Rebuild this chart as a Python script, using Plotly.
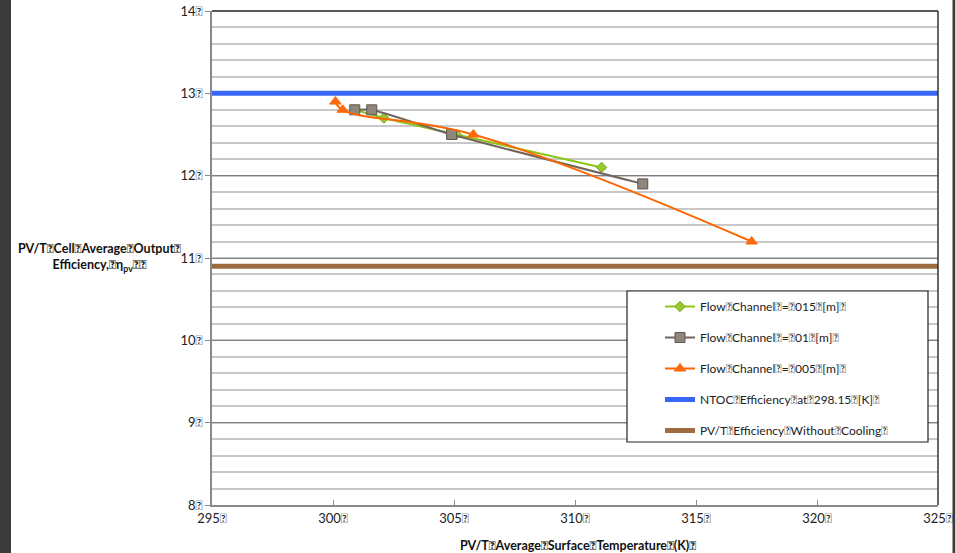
import plotly.graph_objects as go

B = "\ue000"  # glyph that renders as a missing-glyph box, as in the reference

temp_015 = [300.9, 302.1, 305.1, 311.1]
eff_015 = [12.8, 12.7, 12.5, 12.1]
temp_01 = [300.9, 301.6, 304.9, 312.8]
eff_01 = [12.8, 12.8, 12.5, 11.9]
temp_005 = [300.1, 300.4, 305.8, 317.3]
eff_005 = [12.9, 12.8, 12.5, 11.2]
ref_x = [295, 325]
ntoc_eff = [13.0, 13.0]
nocool_eff = [10.9, 10.9]

x_ticks = [295, 300, 305, 310, 315, 320, 325]
y_ticks = [8, 9, 10, 11, 12, 13, 14]

names = [
    f"Flow{B}Channel{B}={B}015{B}[m]{B}",
    f"Flow{B}Channel{B}={B}01{B}[m]{B}",
    f"Flow{B}Channel{B}={B}005{B}[m]{B}",
    f"NTOC{B}Efficiency{B}at{B}298.15{B}[K]{B}",
    f"PV/T{B}Efficiency{B}Without{B}Cooling{B}",
]

FONT = "Lato, Liberation Sans, sans-serif"

fig = go.Figure()
fig.add_trace(go.Scatter(x=temp_015, y=eff_015, name=names[0], legendgroup="a",
                         mode="lines+markers", line=dict(color="#8cc414", width=2, shape="spline", smoothing=0.5),
                         marker=dict(symbol="diamond", size=8, color="#96c832", line=dict(color="#7aa81a", width=1))))
fig.add_trace(go.Scatter(x=temp_01, y=eff_01, name=names[1], legendgroup="b",
                         mode="lines+markers", line=dict(color="#6f655b", width=2, shape="spline", smoothing=0.5),
                         marker=dict(symbol="square", size=10, color="#8f877c", line=dict(color="#5e564d", width=1))))
fig.add_trace(go.Scatter(x=temp_005, y=eff_005, name=names[2], legendgroup="c",
                         mode="lines+markers", line=dict(color="#ff6600", width=2, shape="spline", smoothing=1.2),
                         marker=dict(symbol="triangle-up", size=10, color="#ff6a10", line=dict(color="#ff6600", width=1))))
fig.add_trace(go.Scatter(x=ref_x, y=ntoc_eff, name=names[3], legendgroup="d",
                         mode="lines", line=dict(color="#3a66f5", width=5)))
fig.add_trace(go.Scatter(x=ref_x, y=nocool_eff, name=names[4], legendgroup="e",
                         mode="lines", line=dict(color="#9c6b40", width=5)))

L, R, T, Bm = 212, 17, 11, 48
W, H = 955, 553
pw = W - L - R
ph = H - T - Bm

def px(xp):
    return (xp - L) / pw

def py(yp):
    return 1 - (yp - T) / ph

fig.update_layout(
    width=W, height=H,
    margin=dict(l=L, r=R, t=T, b=Bm, autoexpand=False),
    paper_bgcolor="white", plot_bgcolor="white",
    font=dict(family=FONT, size=12, color="#222222"),
    showlegend=True,
    legend=dict(x=px(660), y=py(292), xanchor="left", yanchor="top",
                bgcolor="rgba(0,0,0,0)", borderwidth=0, tracegroupgap=12,
                font=dict(family=FONT, size=12, color="#222222"), itemwidth=30),
    xaxis=dict(range=[295, 325], tickvals=x_ticks, ticktext=[f"{v}{B}" for v in x_ticks],
               automargin=False,
               showgrid=False, zeroline=False, showline=True, linecolor="#8a8a8a", linewidth=2,
               ticks="inside", ticklen=5, tickcolor="#8a8a8a", tickfont=dict(size=13, color="#222222")),
    yaxis=dict(range=[8, 14], tickvals=y_ticks, ticktext=[f"{v}{B}" for v in y_ticks],
               automargin=False,
               showgrid=True, gridcolor="#7f7f7f", gridwidth=1, zeroline=False,
               showline=True, linecolor="#8a8a8a", linewidth=2,
               ticks="outside", ticklen=5, tickcolor="#8a8a8a", tickfont=dict(size=13, color="#222222"),
               minor=dict(dtick=0.2, showgrid=True, gridcolor="#c8c8c8", gridwidth=1.5, ticks="")),
)

shapes = [
    # left and right dark strips of the window
    dict(type="rect", xref="paper", yref="paper", x0=px(0), x1=px(11), y0=py(H), y1=py(0),
         fillcolor="#3b3b3b", line=dict(width=0), layer="above"),
    dict(type="rect", xref="paper", yref="paper", x0=px(952.5), x1=px(W), y0=py(H), y1=py(0),
         fillcolor="#3b3b3b", line=dict(width=0), layer="above"),
    # top and right border of plot area
    dict(type="line", xref="paper", yref="paper", x0=0, x1=1, y0=1, y1=1, line=dict(color="#222222", width=1.5)),
    dict(type="line", xref="paper", yref="paper", x0=1, x1=1, y0=0, y1=1, line=dict(color="#333333", width=1.5)),
    # legend box
    dict(type="rect", xref="paper", yref="paper", x0=px(627), x1=px(928), y0=py(442), y1=py(291),
         fillcolor="white", line=dict(color="#222222", width=1.2), layer="above"),
]
fig.update_layout(shapes=shapes)

fig.add_annotation(xref="paper", yref="paper", x=px(99), y=py(257), xanchor="center", yanchor="middle",
                   text=f"<b>PV/T{B}Cell{B}Average{B}Output{B}<br>Efficiency,{B}η<sub>pv</sub>{B}{B}</b>",
                   showarrow=False, font=dict(family=FONT, size=12.5, color="#111111"), align="center")
fig.add_annotation(xref="paper", yref="paper", x=px(578), y=py(545), xanchor="center", yanchor="middle",
                   text=f"<b>PV/T{B}Average{B}Surface{B}Temperature{B}(K){B}</b>",
                   showarrow=False, font=dict(family=FONT, size=12.5, color="#111111"))

fig.write_html("out.html", config={"displayModeBar": False},
               post_script="document.body.style.margin='0';document.body.style.overflow='hidden';")
